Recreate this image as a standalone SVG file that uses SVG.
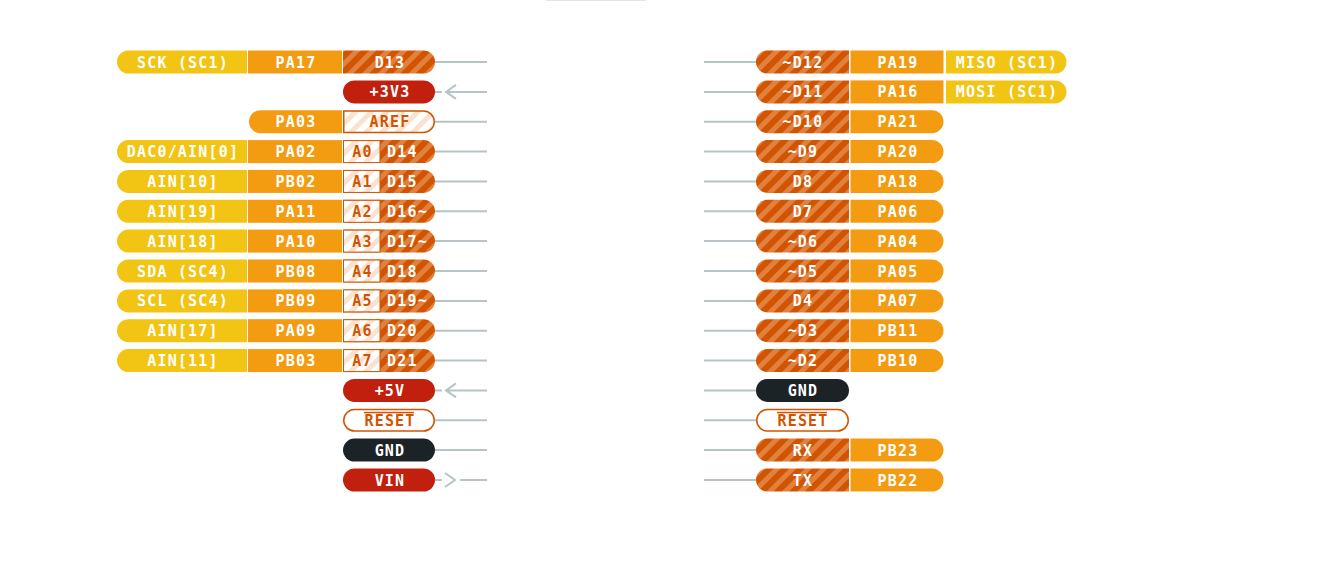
<svg xmlns="http://www.w3.org/2000/svg" width="1342" height="567" viewBox="0 0 1342 567">
<defs>
<pattern id="hatch" patternUnits="userSpaceOnUse" width="11" height="11" patternTransform="rotate(45)">
<rect width="11" height="11" fill="#d35400"/><rect width="5" height="11" fill="#e1813e"/>
</pattern>
<pattern id="hatchLight" patternUnits="userSpaceOnUse" width="11" height="11" patternTransform="rotate(45)">
<rect width="11" height="11" fill="#ffffff"/><rect width="5" height="11" fill="#fbe2d0"/>
</pattern>
<style>
.t{font-family:"DejaVu Sans Mono","Liberation Mono",monospace;font-weight:bold;font-size:15px;letter-spacing:1.2px;fill:#ffffff;text-anchor:middle}
.ts{text-anchor:start}
.to{fill:#d35400}
.y{fill:#f2c414}
.o{fill:#f39c12}
.h{fill:url(#hatch)}
.r{fill:#c1200e}
.k{fill:#1b2327}
.ol{fill:#ffffff;stroke:#d35400;stroke-width:1.5}
.ab{fill:url(#hatchLight);stroke:#d35400;stroke-width:1}
.al{fill:url(#hatchLight);stroke:#d35400;stroke-width:1.5}
.ln{stroke:#b8c3c6;stroke-width:2;fill:none}
</style>
</defs>
<rect x="0" y="0" width="1342" height="567" fill="#ffffff"/>
<rect x="546" y="0" width="100" height="1" fill="#e4e4e4"/>

<g id="connectors">
<path class="ln" d="M435,62H487 M435,121.7H487 M435,151.6H487 M435,181.4H487 M435,211.3H487 M435,241.1H487 M435,271H487 M435,300.9H487 M435,330.7H487 M435,360.6H487 M435,420.3H487 M435,450.1H487"/>
<path class="ln" d="M435,91.9H442 M446,91.9H487 M456,84.9L446,91.9L456,98.9"/>
<path class="ln" d="M435,390.4H442 M446,390.4H487 M456,383.4L446,390.4L456,397.4"/>
<path class="ln" d="M435,480H442 M445,473L455,480L445,487 M460,480H487"/>
<path class="ln" d="M704,62H756 M704,91.9H756 M704,121.7H756 M704,151.6H756 M704,181.4H756 M704,211.3H756 M704,241.1H756 M704,271H756 M704,300.9H756 M704,330.7H756 M704,360.6H756 M704,390.4H756 M704,420.3H756 M704,450.1H756 M704,480H756"/>
</g>

<!-- LEFT -->
<g id="L-D13" transform="translate(0,62)">
<path class="y" d="M128.5,-11.5H247V11.5H128.5A11.5,11.5 0 0 1 128.5,-11.5Z"/>
<rect class="o" x="248" y="-11.5" width="94" height="23"/>
<path class="h" d="M343,-11.5H423.5A11.5,11.5 0 0 1 423.5,11.5H343Z"/>
<text class="t" x="183" y="5.5">SCK (SC1)</text>
<text class="t" x="296" y="5.5">PA17</text>
<text class="t" x="390" y="5.5">D13</text>
</g>
<g id="L-3V3" transform="translate(0,91.9)">
<rect class="r" x="343" y="-11.5" width="92" height="23" rx="11.5"/>
<text class="t" x="390" y="5.5">+3V3</text>
</g>
<g id="L-AREF" transform="translate(0,121.7)">
<path class="o" d="M260.5,-11.5H342V11.5H260.5A11.5,11.5 0 0 1 260.5,-11.5Z"/>
<path class="al" d="M343.75,-10.75H423.5A10.75,10.75 0 0 1 423.5,10.75H343.75Z"/>
<text class="t" x="296" y="5.5">PA03</text>
<text class="t to" x="390" y="5.5">AREF</text>
</g>
<g id="L-D14" transform="translate(0,151.6)">
<path class="y" d="M128.5,-11.5H247V11.5H128.5A11.5,11.5 0 0 1 128.5,-11.5Z"/>
<rect class="o" x="248" y="-11.5" width="94" height="23"/>
<path class="h" d="M343,-11.5H423.5A11.5,11.5 0 0 1 423.5,11.5H343Z"/>
<rect class="ab" x="343.5" y="-11" width="36.5" height="22"/>
<text class="t" x="183" y="5.5">DAC0/AIN[0]</text>
<text class="t" x="296" y="5.5">PA02</text>
<text class="t to" x="362.5" y="5.5">A0</text>
<text class="t ts" x="387" y="5.5">D14</text>
</g>
<g id="L-D15" transform="translate(0,181.4)">
<path class="y" d="M128.5,-11.5H247V11.5H128.5A11.5,11.5 0 0 1 128.5,-11.5Z"/>
<rect class="o" x="248" y="-11.5" width="94" height="23"/>
<path class="h" d="M343,-11.5H423.5A11.5,11.5 0 0 1 423.5,11.5H343Z"/>
<rect class="ab" x="343.5" y="-11" width="36.5" height="22"/>
<text class="t" x="183" y="5.5">AIN[10]</text>
<text class="t" x="296" y="5.5">PB02</text>
<text class="t to" x="362.5" y="5.5">A1</text>
<text class="t ts" x="387" y="5.5">D15</text>
</g>
<g id="L-D16" transform="translate(0,211.3)">
<path class="y" d="M128.5,-11.5H247V11.5H128.5A11.5,11.5 0 0 1 128.5,-11.5Z"/>
<rect class="o" x="248" y="-11.5" width="94" height="23"/>
<path class="h" d="M343,-11.5H423.5A11.5,11.5 0 0 1 423.5,11.5H343Z"/>
<rect class="ab" x="343.5" y="-11" width="36.5" height="22"/>
<text class="t" x="183" y="5.5">AIN[19]</text>
<text class="t" x="296" y="5.5">PA11</text>
<text class="t to" x="362.5" y="5.5">A2</text>
<text class="t ts" x="387" y="5.5">D16~</text>
</g>
<g id="L-D17" transform="translate(0,241.1)">
<path class="y" d="M128.5,-11.5H247V11.5H128.5A11.5,11.5 0 0 1 128.5,-11.5Z"/>
<rect class="o" x="248" y="-11.5" width="94" height="23"/>
<path class="h" d="M343,-11.5H423.5A11.5,11.5 0 0 1 423.5,11.5H343Z"/>
<rect class="ab" x="343.5" y="-11" width="36.5" height="22"/>
<text class="t" x="183" y="5.5">AIN[18]</text>
<text class="t" x="296" y="5.5">PA10</text>
<text class="t to" x="362.5" y="5.5">A3</text>
<text class="t ts" x="387" y="5.5">D17~</text>
</g>
<g id="L-D18" transform="translate(0,271)">
<path class="y" d="M128.5,-11.5H247V11.5H128.5A11.5,11.5 0 0 1 128.5,-11.5Z"/>
<rect class="o" x="248" y="-11.5" width="94" height="23"/>
<path class="h" d="M343,-11.5H423.5A11.5,11.5 0 0 1 423.5,11.5H343Z"/>
<rect class="ab" x="343.5" y="-11" width="36.5" height="22"/>
<text class="t" x="183" y="5.5">SDA (SC4)</text>
<text class="t" x="296" y="5.5">PB08</text>
<text class="t to" x="362.5" y="5.5">A4</text>
<text class="t ts" x="387" y="5.5">D18</text>
</g>
<g id="L-D19" transform="translate(0,300.9)">
<path class="y" d="M128.5,-11.5H247V11.5H128.5A11.5,11.5 0 0 1 128.5,-11.5Z"/>
<rect class="o" x="248" y="-11.5" width="94" height="23"/>
<path class="h" d="M343,-11.5H423.5A11.5,11.5 0 0 1 423.5,11.5H343Z"/>
<rect class="ab" x="343.5" y="-11" width="36.5" height="22"/>
<text class="t" x="183" y="5.5">SCL (SC4)</text>
<text class="t" x="296" y="5.5">PB09</text>
<text class="t to" x="362.5" y="5.5">A5</text>
<text class="t ts" x="387" y="5.5">D19~</text>
</g>
<g id="L-D20" transform="translate(0,330.7)">
<path class="y" d="M128.5,-11.5H247V11.5H128.5A11.5,11.5 0 0 1 128.5,-11.5Z"/>
<rect class="o" x="248" y="-11.5" width="94" height="23"/>
<path class="h" d="M343,-11.5H423.5A11.5,11.5 0 0 1 423.5,11.5H343Z"/>
<rect class="ab" x="343.5" y="-11" width="36.5" height="22"/>
<text class="t" x="183" y="5.5">AIN[17]</text>
<text class="t" x="296" y="5.5">PA09</text>
<text class="t to" x="362.5" y="5.5">A6</text>
<text class="t ts" x="387" y="5.5">D20</text>
</g>
<g id="L-D21" transform="translate(0,360.6)">
<path class="y" d="M128.5,-11.5H247V11.5H128.5A11.5,11.5 0 0 1 128.5,-11.5Z"/>
<rect class="o" x="248" y="-11.5" width="94" height="23"/>
<path class="h" d="M343,-11.5H423.5A11.5,11.5 0 0 1 423.5,11.5H343Z"/>
<rect class="ab" x="343.5" y="-11" width="36.5" height="22"/>
<text class="t" x="183" y="5.5">AIN[11]</text>
<text class="t" x="296" y="5.5">PB03</text>
<text class="t to" x="362.5" y="5.5">A7</text>
<text class="t ts" x="387" y="5.5">D21</text>
</g>
<g id="L-5V" transform="translate(0,390.4)">
<rect class="r" x="343" y="-11.5" width="92" height="23" rx="11.5"/>
<text class="t" x="390" y="5.5">+5V</text>
</g>
<g id="L-RESET" transform="translate(0,420.3)">
<rect class="ol" x="343.75" y="-10.75" width="90.5" height="21.5" rx="10.75"/>
<text class="t to" x="390" y="5.5">RESET</text>
<rect x="364" y="-8.5" width="50" height="1.5" fill="#d35400"/>
</g>
<g id="L-GND" transform="translate(0,450.1)">
<rect class="k" x="343" y="-11.5" width="92" height="23" rx="11.5"/>
<text class="t" x="390" y="5.5">GND</text>
</g>
<g id="L-VIN" transform="translate(0,480)">
<rect class="r" x="343" y="-11.5" width="92" height="23" rx="11.5"/>
<text class="t" x="390" y="5.5">VIN</text>
</g>

<!-- RIGHT -->
<g id="R-D12" transform="translate(0,62)">
<path class="h" d="M767.5,-11.5H849V11.5H767.5A11.5,11.5 0 0 1 767.5,-11.5Z"/>
<rect class="o" x="850.5" y="-11.5" width="93" height="23"/>
<path class="y" d="M946,-11.5H1055A11.5,11.5 0 0 1 1055,11.5H946Z"/>
<text class="t" x="803" y="5.5">~D12</text>
<text class="t" x="898" y="5.5">PA19</text>
<text class="t" x="1007" y="5.5">MISO (SC1)</text>
</g>
<g id="R-D11" transform="translate(0,91.9)">
<path class="h" d="M767.5,-11.5H849V11.5H767.5A11.5,11.5 0 0 1 767.5,-11.5Z"/>
<rect class="o" x="850.5" y="-11.5" width="93" height="23"/>
<path class="y" d="M946,-11.5H1055A11.5,11.5 0 0 1 1055,11.5H946Z"/>
<text class="t" x="803" y="5.5">~D11</text>
<text class="t" x="898" y="5.5">PA16</text>
<text class="t" x="1007" y="5.5">MOSI (SC1)</text>
</g>
<g id="R-D10" transform="translate(0,121.7)">
<path class="h" d="M767.5,-11.5H849V11.5H767.5A11.5,11.5 0 0 1 767.5,-11.5Z"/>
<path class="o" d="M850.5,-11.5H932A11.5,11.5 0 0 1 932,11.5H850.5Z"/>
<text class="t" x="803" y="5.5">~D10</text>
<text class="t" x="898" y="5.5">PA21</text>
</g>
<g id="R-D9" transform="translate(0,151.6)">
<path class="h" d="M767.5,-11.5H849V11.5H767.5A11.5,11.5 0 0 1 767.5,-11.5Z"/>
<path class="o" d="M850.5,-11.5H932A11.5,11.5 0 0 1 932,11.5H850.5Z"/>
<text class="t" x="803" y="5.5">~D9</text>
<text class="t" x="898" y="5.5">PA20</text>
</g>
<g id="R-D8" transform="translate(0,181.4)">
<path class="h" d="M767.5,-11.5H849V11.5H767.5A11.5,11.5 0 0 1 767.5,-11.5Z"/>
<path class="o" d="M850.5,-11.5H932A11.5,11.5 0 0 1 932,11.5H850.5Z"/>
<text class="t" x="803" y="5.5">D8</text>
<text class="t" x="898" y="5.5">PA18</text>
</g>
<g id="R-D7" transform="translate(0,211.3)">
<path class="h" d="M767.5,-11.5H849V11.5H767.5A11.5,11.5 0 0 1 767.5,-11.5Z"/>
<path class="o" d="M850.5,-11.5H932A11.5,11.5 0 0 1 932,11.5H850.5Z"/>
<text class="t" x="803" y="5.5">D7</text>
<text class="t" x="898" y="5.5">PA06</text>
</g>
<g id="R-D6" transform="translate(0,241.1)">
<path class="h" d="M767.5,-11.5H849V11.5H767.5A11.5,11.5 0 0 1 767.5,-11.5Z"/>
<path class="o" d="M850.5,-11.5H932A11.5,11.5 0 0 1 932,11.5H850.5Z"/>
<text class="t" x="803" y="5.5">~D6</text>
<text class="t" x="898" y="5.5">PA04</text>
</g>
<g id="R-D5" transform="translate(0,271)">
<path class="h" d="M767.5,-11.5H849V11.5H767.5A11.5,11.5 0 0 1 767.5,-11.5Z"/>
<path class="o" d="M850.5,-11.5H932A11.5,11.5 0 0 1 932,11.5H850.5Z"/>
<text class="t" x="803" y="5.5">~D5</text>
<text class="t" x="898" y="5.5">PA05</text>
</g>
<g id="R-D4" transform="translate(0,300.9)">
<path class="h" d="M767.5,-11.5H849V11.5H767.5A11.5,11.5 0 0 1 767.5,-11.5Z"/>
<path class="o" d="M850.5,-11.5H932A11.5,11.5 0 0 1 932,11.5H850.5Z"/>
<text class="t" x="803" y="5.5">D4</text>
<text class="t" x="898" y="5.5">PA07</text>
</g>
<g id="R-D3" transform="translate(0,330.7)">
<path class="h" d="M767.5,-11.5H849V11.5H767.5A11.5,11.5 0 0 1 767.5,-11.5Z"/>
<path class="o" d="M850.5,-11.5H932A11.5,11.5 0 0 1 932,11.5H850.5Z"/>
<text class="t" x="803" y="5.5">~D3</text>
<text class="t" x="898" y="5.5">PB11</text>
</g>
<g id="R-D2" transform="translate(0,360.6)">
<path class="h" d="M767.5,-11.5H849V11.5H767.5A11.5,11.5 0 0 1 767.5,-11.5Z"/>
<path class="o" d="M850.5,-11.5H932A11.5,11.5 0 0 1 932,11.5H850.5Z"/>
<text class="t" x="803" y="5.5">~D2</text>
<text class="t" x="898" y="5.5">PB10</text>
</g>
<g id="R-GND" transform="translate(0,390.4)">
<rect class="k" x="756" y="-11.5" width="93" height="23" rx="11.5"/>
<text class="t" x="803" y="5.5">GND</text>
</g>
<g id="R-RESET" transform="translate(0,420.3)">
<rect class="ol" x="756.75" y="-10.75" width="91.5" height="21.5" rx="10.75"/>
<text class="t to" x="803" y="5.5">RESET</text>
<rect x="777" y="-8.5" width="50" height="1.5" fill="#d35400"/>
</g>
<g id="R-RX" transform="translate(0,450.1)">
<path class="h" d="M767.5,-11.5H849V11.5H767.5A11.5,11.5 0 0 1 767.5,-11.5Z"/>
<path class="o" d="M850.5,-11.5H932A11.5,11.5 0 0 1 932,11.5H850.5Z"/>
<text class="t" x="803" y="5.5">RX</text>
<text class="t" x="898" y="5.5">PB23</text>
</g>
<g id="R-TX" transform="translate(0,480)">
<path class="h" d="M767.5,-11.5H849V11.5H767.5A11.5,11.5 0 0 1 767.5,-11.5Z"/>
<path class="o" d="M850.5,-11.5H932A11.5,11.5 0 0 1 932,11.5H850.5Z"/>
<text class="t" x="803" y="5.5">TX</text>
<text class="t" x="898" y="5.5">PB22</text>
</g>
</svg>
